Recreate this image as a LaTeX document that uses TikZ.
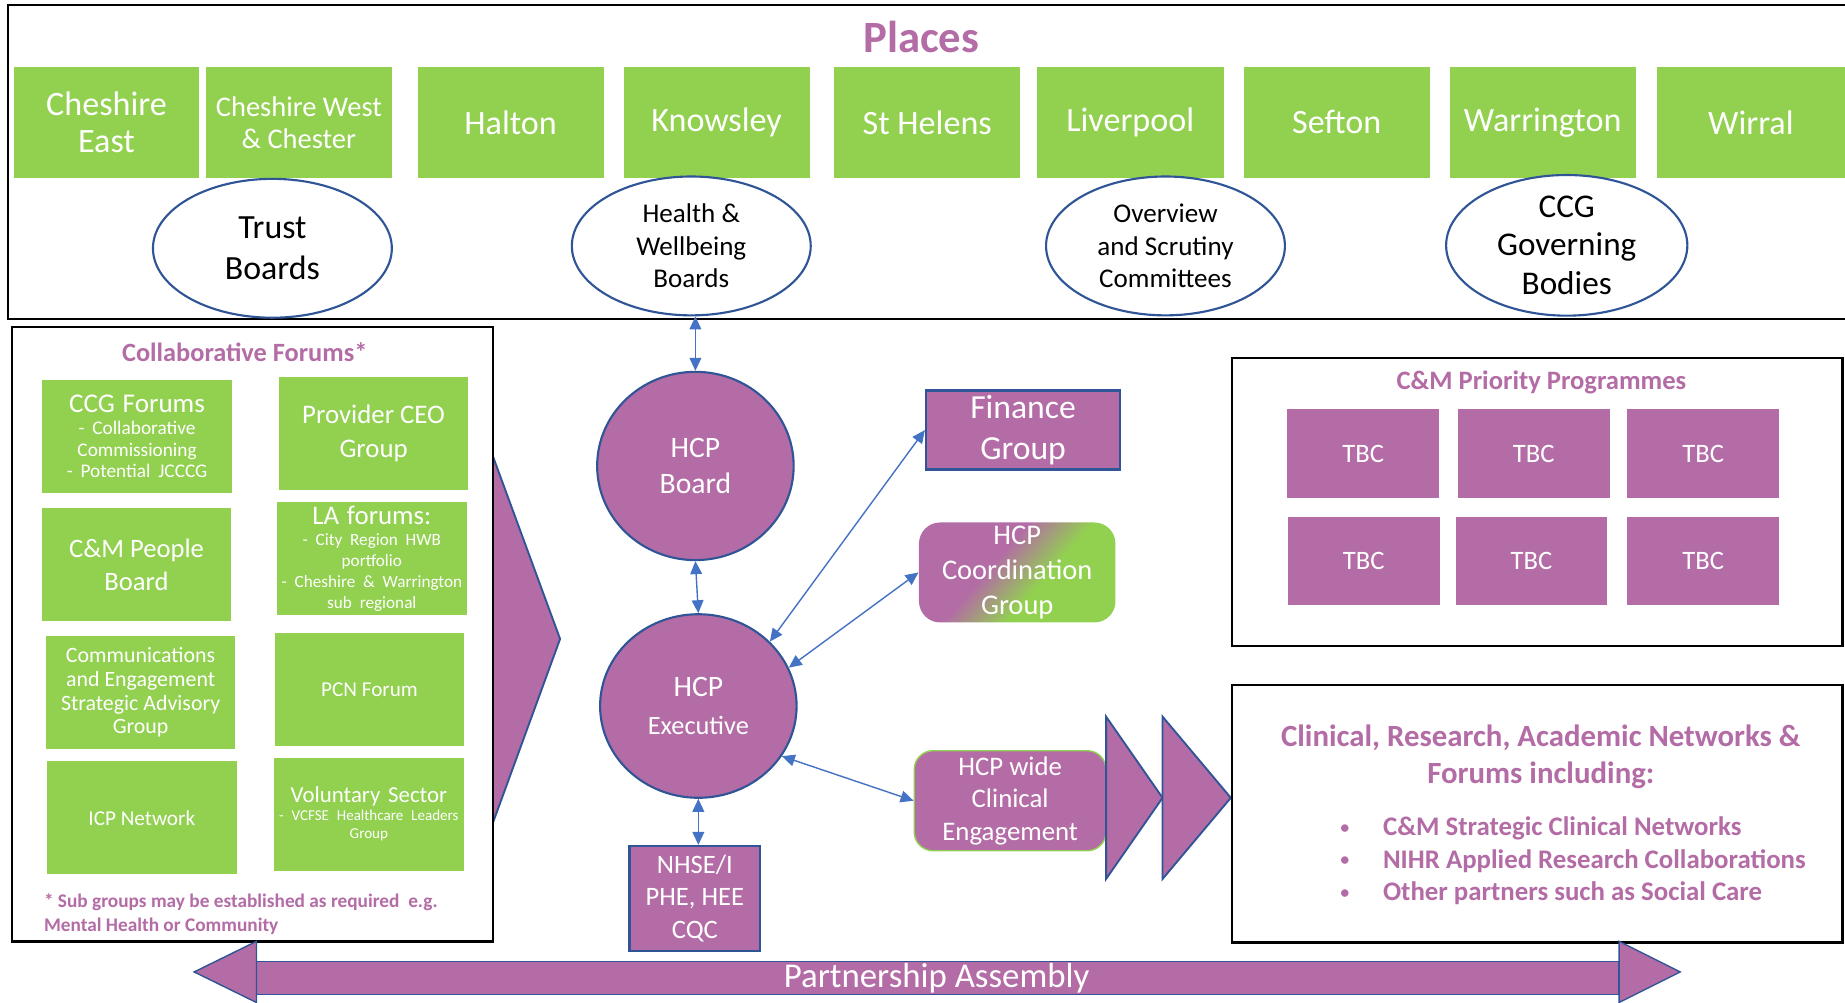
\documentclass[tikz,border=0pt]{standalone}
\usepackage{fontspec}
\setmainfont{Carlito}
\usetikzlibrary{shapes.geometric,arrows.meta}
\definecolor{cmgreen}{HTML}{92D050}
\definecolor{cmpurple}{HTML}{B36CA5}
\definecolor{cmblue}{HTML}{2F5597}
\definecolor{arrblue}{HTML}{4472C4}
\newcommand{\fsz}[2]{\fontsize{#1}{#2}\selectfont}
\newcommand{\blt}{\makebox[18.5pt][l]{\raisebox{0.5pt}{\fsz{9}{9}\mdseries •}}}
\pgfdeclarehorizontalshading{coordshade}{100bp}{color(0bp)=(cmpurple); color(42bp)=(cmpurple); color(58bp)=(cmgreen); color(100bp)=(cmgreen)}
\begin{document}
\begin{tikzpicture}[x=0.5pt,y=-0.5pt,
  wh/.style 2 args={minimum width=#1, minimum height=#2},
  gbox/.style={fill=cmgreen, text=white, align=center, inner sep=1pt},
  pbox/.style={fill=cmpurple, text=white, align=center, inner sep=1pt},
  ell/.style={ellipse, draw=cmblue, line width=0.9pt, fill=white, text=black, align=center, inner sep=0pt},
  circ/.style={ellipse, draw=cmblue, line width=0.9pt, fill=cmpurple, text=white, align=center, inner sep=0pt},
  boxframe/.style={draw=black, line width=1pt, fill=white},
  chev/.style={draw=cmblue, line width=0.8pt, fill=cmpurple, line join=miter},
  biarr/.style={draw=arrblue, line width=0.6pt, arrows={Triangle[width=5pt,length=5.5pt]-Triangle[width=5pt,length=5.5pt]}},
  ptitle/.style={text=cmpurple, font=\bfseries\fsz{11.3}{13.5}, inner sep=0pt},
  tbc/.style={pbox, wh={64.5pt}{37.5pt}, font=\fsz{11.3}{13}},
  fbox/.style={gbox, wh={80.5pt}{48pt}}
]
\useasboundingbox (0,0) rectangle (1568,852);
\clip (0,0) rectangle (1568,852);

% ---------------- Places ----------------
\draw[boxframe] (7,4) rectangle (1590,271);
\node[text=cmpurple, font=\bfseries\fsz{19}{22}, inner sep=0pt] (places) at (783,31) {Places};

\node[gbox, wh={78.5pt}{47pt}, font=\fsz{14.5}{15.5}] (ce) at (90.5,104) {Cheshire\\East};
\node[gbox, wh={79pt}{47pt}, font=\fsz{12.1}{13.5}] (cwc) at (254,104) {Cheshire West\\\& Chester};
\node[gbox, wh={79pt}{47pt}, font=\fsz{14.5}{16}] (halton) at (434,104) {Halton};
\node[gbox, wh={79pt}{47pt}, font=\fsz{14.5}{16}] (knowsley) at (609,104) {Knowsley};
\node[gbox, wh={79pt}{47pt}, font=\fsz{14.5}{16}] (sthelens) at (788,104) {St Helens};
\node[gbox, wh={79.5pt}{47pt}, font=\fsz{14.5}{16}] (liverpool) at (960.5,104) {Liverpool};
\node[gbox, wh={79pt}{47pt}, font=\fsz{14.5}{16}] (sefton) at (1136,104) {Sefton};
\node[gbox, wh={79pt}{47pt}, font=\fsz{14.5}{16}] (warrington) at (1311,104) {Warrington};
\node[gbox, wh={80pt}{47pt}, font=\fsz{14.5}{16}] (wirral) at (1488,104) {Wirral};

\node[ell, wh={101.5pt}{59pt}, font=\fsz{14.4}{17.5}] (trust) at (231.5,211) {Trust\\Boards};
\node[ell, wh={101.5pt}{59pt}, font=\fsz{11.5}{13.75}] (hwb) at (587.5,209) {Health \&\\Wellbeing\\Boards};
\node[ell, wh={101.5pt}{59pt}, font=\fsz{11.5}{13.75}] (osc) at (990.5,209) {Overview\\and Scrutiny\\Committees};
\node[ell, wh={102.5pt}{58.5pt}, font=\fsz{14.1}{16.5}] (ccg) at (1331.5,208.5) {CCG\\Governing\\Bodies};

% ---------------- Collaborative forums ----------------
\draw[chev] (419,388) -- (476,543) -- (419,699) -- cycle;
\draw[boxframe] (10,278) rectangle (419,800);
\node[ptitle, font=\bfseries\fsz{11.2}{13.5}] (collab) at (208,299) {Collaborative Forums*};

\node[fbox, text width=78pt] (ccgf) at (116.5,371)
  {\centering{\fsz{11.5}{13.5}CCG Forums\par}{\fsz{8.2}{9.2}- Collaborative\par Commissioning\par - Potential JCCCG\par}};
\node[fbox, font=\fsz{11.4}{14.5}] (pceo) at (317.5,368) {Provider CEO\\Group};
\node[fbox, font=\fsz{11.3}{14}] (people) at (116,480) {C\&M People\\Board};
\node[fbox, text width=78pt] (la) at (316,475)
  {\centering{\fsz{11.4}{13.5}LA forums:\par}{\fsz{7.3}{8.9}- City Region HWB\par portfolio\par - Cheshire \& Warrington\par sub regional\par}};
\node[fbox, font=\fsz{9.3}{10}] (comms) at (119.5,588.5) {Communications\\and Engagement\\Strategic Advisory\\Group};
\node[fbox, font=\fsz{9}{10}] (pcn) at (314,586) {PCN Forum};
\node[fbox, font=\fsz{9}{10}] (icp) at (120.5,695) {ICP Network};
\node[fbox, text width=78pt] (vol) at (313.5,692)
  {\centering{\fsz{9.7}{11.5}Voluntary Sector\par}{\fsz{6.4}{7.65}- VCFSE Healthcare Leaders\par Group\par}};
\node[anchor=west, align=left, text=cmpurple, font=\bfseries\fsz{8.2}{10}, inner sep=0pt] (foot) at (37,777)
  {* Sub groups may be established as required\ \ e.g.\\Mental Health or Community};

% ---------------- Centre ----------------
\node[circ, wh={83.5pt}{80pt}, font=\fsz{12.6}{15.5}] (board) at (591,396) {HCP\\Board};
\node[circ, wh={83.5pt}{78pt}, text width=48pt] (exec) at (593.5,600)
  {\centering{\fsz{12.6}{15}HCP\par}{\fsz{11.2}{16}Executive\par}};
\node[pbox, draw=cmblue, line width=1pt, wh={82.5pt}{33.5pt}, font=\fsz{14.3}{17.5}] (finance) at (869.5,365.5) {Finance\\Group};
\node[shade, shading=coordshade, shading angle=-41, rounded corners=9pt, text=white, align=center, inner sep=0pt,
      wh={83.5pt}{42.5pt}, font=\fsz{12.1}{14.75}] (coord) at (864.5,486.5) {HCP\\Coordination\\Group};
\node[fill=cmpurple, draw=cmgreen, line width=0.6pt, rounded corners=8pt, text=white, align=center, inner sep=0pt,
      wh={81.5pt}{42.5pt}, font=\fsz{11.4}{13.75}] (clin) at (858.5,680.5) {HCP wide\\Clinical\\Engagement};
\draw[chev] (940,609) -- (988,678) -- (940,747) -- cycle;
\draw[chev] (988,609) -- (1046,678) -- (988,747) -- cycle;
\node[pbox, draw=cmblue, line width=1pt, wh={55.5pt}{44.5pt}, font=\fsz{11.3}{13.75}] (nhse) at (590.5,763.5) {NHSE/I\\PHE, HEE\\CQC};

\draw[biarr] (board.north |- hwb.south) -- (board.north);
\draw[biarr] (board.south) -- (exec.north);
\draw[biarr] (exec.42) -- (finance.west);
\draw[biarr] (exec.23) -- (coord.west);
\draw[biarr] (exec.-31) -- (clin.west);
\draw[biarr] (exec.south) -- (exec.south |- nhse.north);

% ---------------- Priority programmes ----------------
\draw[boxframe] (1047,304) rectangle (1566,549);
\node[ptitle] (prio) at (1310,325) {C\&M Priority Programmes};
\node[tbc] (t1) at (1158.5,385.5) {TBC};
\node[tbc] (t2) at (1303.5,385.5) {TBC};
\node[tbc] (t3) at (1447.5,385.5) {TBC};
\node[tbc] (t4) at (1159,477) {TBC};
\node[tbc] (t5) at (1301.5,477) {TBC};
\node[tbc] (t6) at (1447.5,477) {TBC};

% ---------------- Clinical networks ----------------
\draw[boxframe] (1047,582) rectangle (1566,801);
\node[text=cmpurple, align=center, font=\bfseries\fsz{13.1}{15.6}, inner sep=0pt] (cltitle) at (1309.5,643)
  {Clinical, Research, Academic Networks \&\\Forums including:};
\node[anchor=west, align=left, text=cmpurple, font=\bfseries\fsz{11.4}{13.8}, inner sep=0pt] (cllist) at (1138,731.5)
  {\blt C\&M Strategic Clinical Networks\\
   \blt NIHR Applied Research Collaborations\\
   \blt Other partners such as Social Care};

% ---------------- Partnership Assembly ----------------
\draw[chev, line width=0.6pt] (218,817) rectangle (1376,845);
\draw[chev, line width=0.6pt] (218,800) -- (165,826) -- (218,852) -- cycle;
\draw[chev, line width=0.6pt] (1376,800) -- (1428,826) -- (1376,852) -- cycle;
\node[text=white, font=\fsz{14.8}{16}, inner sep=0pt] (pa) at (796,831) {Partnership Assembly};
\end{tikzpicture}
\end{document}
